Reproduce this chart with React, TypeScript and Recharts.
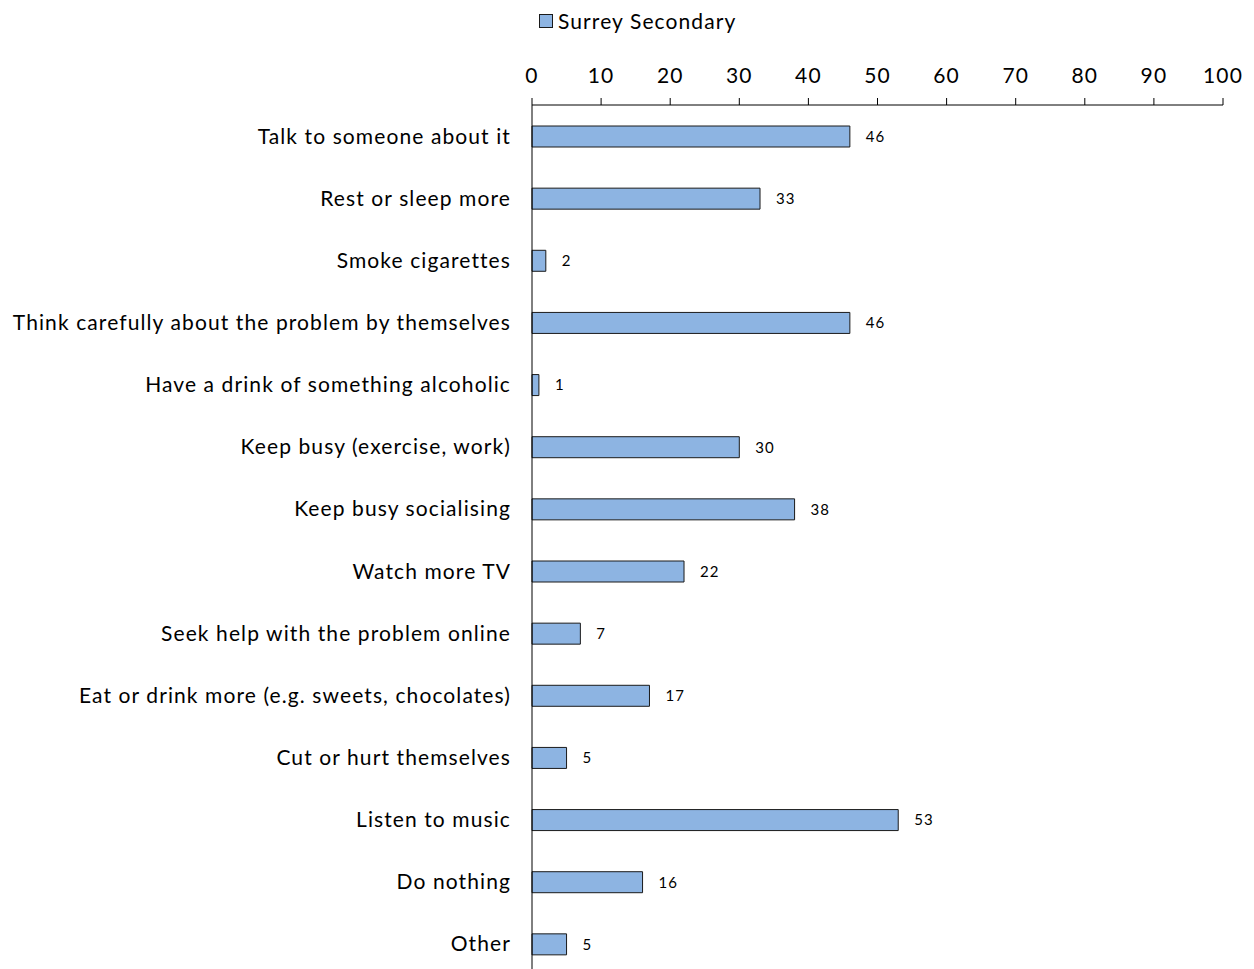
import React from 'react';
import { BarChart, Bar, XAxis, YAxis, LabelList } from 'recharts';

const categories = [
  'Talk to someone about it',
  'Rest or sleep more',
  'Smoke cigarettes',
  'Think carefully about the problem by themselves',
  'Have a drink of something alcoholic',
  'Keep busy (exercise, work)',
  'Keep busy socialising',
  'Watch more TV',
  'Seek help with the problem online',
  'Eat or drink more (e.g. sweets, chocolates)',
  'Cut or hurt themselves',
  'Listen to music',
  'Do nothing',
  'Other',
];

const surreySecondary = [46, 33, 2, 46, 1, 30, 38, 22, 7, 17, 5, 53, 16, 5];

const xTicks = [0, 10, 20, 30, 40, 50, 60, 70, 80, 90, 100];

const seriesName = 'Surrey Secondary';

// Lato with a bit of tracking gets close to the original's wide humanist face
const FONT = 'Lato, "Open Sans", sans-serif';
const SPACING = 1.1;
const BAR_FILL = '#8DB4E2';
const BAR_STROKE = '#1a1a1a';

const data = categories.map((name, i) => ({ name, value: surreySecondary[i] }));

export default function App() {
  return (
    <div
      style={{
        position: 'absolute',
        left: 0,
        top: 0,
        width: 1254,
        height: 969,
        overflow: 'hidden',
        background: '#fff',
        fontFamily: FONT,
      }}
    >
      <div
        style={{
          position: 'absolute',
          left: 539,
          top: 8,
          display: 'flex',
          alignItems: 'center',
          fontSize: 21,
          letterSpacing: SPACING,
          color: '#000',
        }}
      >
        <span
          style={{
            display: 'inline-block',
            width: 12,
            height: 12,
            background: BAR_FILL,
            border: `1px solid ${BAR_STROKE}`,
            marginRight: 5,
          }}
        />
        {seriesName}
      </div>
      <BarChart
        width={1254}
        height={975}
        data={data}
        layout="vertical"
        margin={{ top: 45, right: 31, bottom: 0, left: 0 }}
        barCategoryGap={0}
      >
        <XAxis
          type="number"
          orientation="top"
          domain={[0, 100]}
          ticks={xTicks}
          height={60}
          tickSize={7}
          tickMargin={15}
          axisLine={{ stroke: '#000' }}
          tickLine={{ stroke: '#000' }}
          tick={{ fill: '#000', fontSize: 21, fontFamily: FONT, letterSpacing: SPACING }}
          interval={0}
        />
        <YAxis
          type="category"
          dataKey="name"
          width={532}
          tickSize={0}
          tickMargin={21}
          axisLine={{ stroke: '#000' }}
          tickLine={false}
          tick={{ fill: '#000', fontSize: 21, fontFamily: FONT, letterSpacing: SPACING }}
          interval={0}
        />
        <Bar
          dataKey="value"
          barSize={21}
          fill={BAR_FILL}
          stroke={BAR_STROKE}
          strokeWidth={1}
          isAnimationActive={false}
        >
          <LabelList
            dataKey="value"
            position="right"
            offset={16}
            style={{ fill: '#000', fontSize: 15, fontFamily: FONT, letterSpacing: 1 }}
          />
        </Bar>
      </BarChart>
    </div>
  );
}
